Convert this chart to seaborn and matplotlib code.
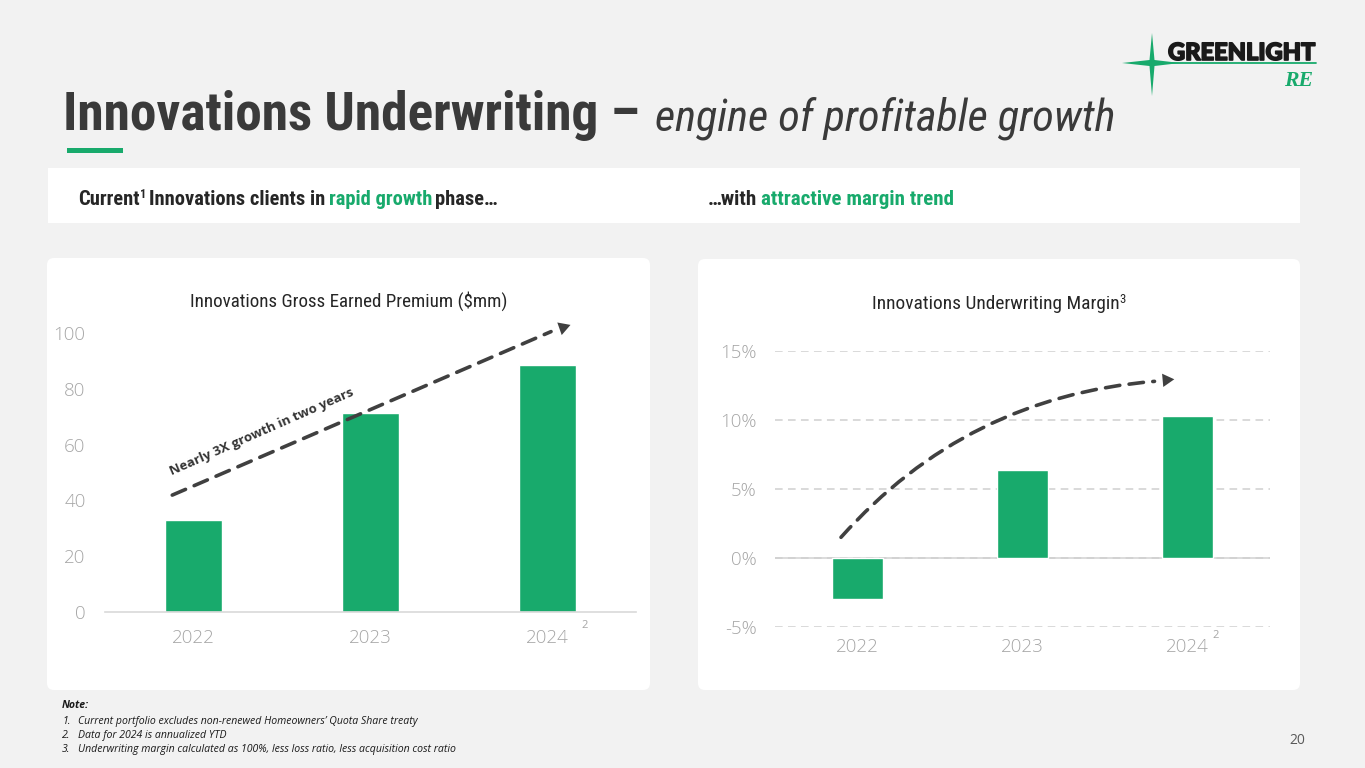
import numpy as np
import pandas as pd
import matplotlib
matplotlib.use("Agg")
import matplotlib.pyplot as plt
import seaborn as sns
from matplotlib import font_manager as fm
from matplotlib.patches import FancyBboxPatch, Rectangle, Polygon, FancyArrowPatch
import matplotlib.patheffects as pe

# ---------------- data ----------------
years = ["2022", "2023", "2024"]
premium_mm = [33.0, 71.5, 88.5]
margin_pct = [-3.0, 6.4, 10.3]
premium_ticks = [0, 20, 40, 60, 80, 100]
margin_ticks = [-5, 0, 5, 10, 15]

GREEN = "#18AA6C"
DARK = "#3A3A3A"
TICK = "#A6A6A6"

sns.set_theme(style="white")
names = {f.name for f in fm.fontManager.ttflist}


def pick(*cands):
    for c in cands:
        if c in names:
            return c
    return "DejaVu Sans"


COND = pick("Liberation Sans Narrow", "Roboto Condensed", "Open Sans Condensed", "DejaVu Sans")
BODY = pick("Open Sans", "Noto Sans", "DejaVu Sans")
HEAVY = pick("Lato", "Roboto", "DejaVu Sans")
SERIF = pick("Liberation Serif", "DejaVu Serif")
plt.rcParams["font.family"] = [BODY, "DejaVu Sans"]

W, H = 1365, 768
fig = plt.figure(figsize=(W / 100, H / 100), dpi=100, facecolor="#F2F2F2")
bg = fig.add_axes([0, 0, 1, 1], zorder=0)
bg.set_xlim(0, W)
bg.set_ylim(H, 0)
bg.axis("off")
R = fig.canvas.get_renderer()

# panels
bg.add_patch(Rectangle((48, 168), 1252, 55, fc="white", ec="none"))
for (x0, y0, x1, y1) in [(47, 258, 650, 690), (698, 259, 1300, 690)]:
    r = 7
    bg.add_patch(FancyBboxPatch((x0 + r, y0 + r), x1 - x0 - 2 * r, y1 - y0 - 2 * r,
                                boxstyle=f"round,pad={r}", fc="white", ec="none"))
bg.add_patch(Rectangle((67, 148), 56, 5, fc=GREEN, ec="none"))


def chain(pieces, x, y, size):
    texts = []
    cx = x
    for s, kw in pieces:
        kw = dict(kw)
        rel = kw.pop("rel", 1.0)
        dy = kw.pop("dy", 0.0)
        gap = kw.pop("gap", 0.0)
        cx += gap * size
        t = bg.text(cx, y - dy * size, s, fontsize=size * rel, va="baseline", ha="left", **kw)
        bb = t.get_window_extent(R)
        cx += bb.width
        texts.append(t)
    return texts, cx - x


def fit_chain(pieces, x, y, target, size0=20):
    texts, w = chain(pieces, x, y, size0)
    for t in texts:
        t.remove()
    size = size0 * target / w
    texts, w = chain(pieces, x, y, size)
    return texts, size


# ---------------- title ----------------
fit_chain([("Innovations Underwriting –", dict(family=[COND, "DejaVu Sans"], weight="bold", color=DARK))],
          63, 130, 577)
fit_chain([("engine of profitable growth", dict(family=[COND, "DejaVu Sans"], style="italic",
                                                 weight="normal", color=DARK))],
          655, 130, 460)

# ---------------- header band ----------------
hk = dict(family=[COND, "DejaVu Sans"], weight="bold", color="#262626")
hg = dict(hk, color=GREEN)
fit_chain([("Current", hk), ("1", dict(hk, rel=0.6, dy=0.45)),
           ("Innovations clients in", dict(hk, gap=0.22)),
           ("rapid growth", dict(hg, gap=0.22)), ("phase…", dict(hk, gap=0.22))],
          78, 205, 419)
fit_chain([("…with", hk), ("attractive margin trend", dict(hg, gap=0.22))], 708, 205, 245)

# ---------------- chart titles ----------------
tk = dict(family=[COND, "DejaVu Sans"], color="#262626")
fit_chain([("Innovations Gross Earned Premium ($mm)", tk)], 190, 307, 317)
fit_chain([("Innovations Underwriting Margin", tk), ("3", dict(tk, rel=0.65, dy=0.4))], 872, 309, 253)

# ---------------- logo ----------------
bg.add_patch(Polygon([(1152, 33), (1154.5, 60), (1180, 63), (1154.5, 66), (1152, 96),
                      (1149.5, 66), (1122, 63), (1149.5, 60)], closed=True, fc=GREEN, ec="none"))
bg.plot([1160, 1316], [63, 63], color=GREEN, lw=1.3)
gl, _ = fit_chain([("GREENLIGHT", dict(family=[HEAVY, "DejaVu Sans"], weight="black", color="#1A1A1A"))],
                  1168, 60, 147)
for t in gl:
    t.set_path_effects([pe.withStroke(linewidth=1.2, foreground="#1A1A1A")])
fit_chain([("RE", dict(family=[SERIF], weight="bold", style="italic", color=GREEN))], 1284, 86, 29)

# ---------------- notes ----------------
nk = dict(family=[BODY, "DejaVu Sans"], style="italic", color="#1A1A1A")
_, ns = fit_chain([("Underwriting margin calculated as 100%, less loss ratio, less acquisition cost ratio", nk)],
                  78, 752, 377, 8)
bg.text(62, 708, "Note:", fontsize=ns, va="baseline", weight="bold", **nk)
bg.text(62, 724, "1.", fontsize=ns, va="baseline", **nk)
bg.text(78, 724, "Current portfolio excludes non-renewed Homeowners’ Quota Share treaty", fontsize=ns, va="baseline", **nk)
bg.text(62, 738, "2.", fontsize=ns, va="baseline", **nk)
bg.text(78, 738, "Data for 2024 is annualized YTD", fontsize=ns, va="baseline", **nk)
bg.text(62, 752, "3.", fontsize=ns, va="baseline", **nk)
bg.text(1297, 740, "20", fontsize=10, color="#595959", ha="center", va="center")

# ---------------- left chart ----------------
axL = fig.add_axes([105 / W, 1 - 612 / H, 531 / W, 279 / H], zorder=2)
axL.patch.set_alpha(0)
sns.barplot(x=years, y=premium_mm, color=GREEN, saturation=1, width=0.32, ax=axL)
axL.set_xlim(-0.5, 2.5)
axL.set_ylim(0, 100)
axL.set_yticks(premium_ticks)
axL.set_xlabel("")
axL.set_ylabel("")
for s in ["top", "right", "left"]:
    axL.spines[s].set_visible(False)
axL.spines["bottom"].set_color("#D9D9D9")
axL.spines["bottom"].set_linewidth(1.2)
axL.tick_params(axis="both", length=0, labelsize=13.5, labelcolor=TICK)
axL.tick_params(axis="y", pad=14)
axL.tick_params(axis="x", pad=12)
axL.annotate("2", xy=(2, 0), xycoords=("data", "axes fraction"), xytext=(37, -13),
             textcoords="offset pixels", fontsize=8, color=TICK, ha="center", va="center")

# growth arrow
ak = dict(color="#404040", lw=2.6)
axL.annotate("", xy=(2.02, 100.5), xytext=(-0.12, 41.9), annotation_clip=False,
             arrowprops=dict(arrowstyle="-", linestyle=(0, (4, 2.6)), shrinkA=0, shrinkB=0, **ak))
axL.annotate("", xy=(2.13, 102.9), xytext=(2.0, 100.0), annotation_clip=False,
             arrowprops=dict(arrowstyle="-|>,head_length=0.7,head_width=0.4", lw=0, color="#404040",
                             shrinkA=0, shrinkB=0))
axL.text(0.385, 64.5, "Nearly 3X growth in two years", rotation=23.7, rotation_mode="anchor",
         ha="center", va="center", fontsize=9.5, weight="bold", color="#333333")

# ---------------- right chart ----------------
axR = fig.add_axes([775 / W, 1 - 627 / H, 495 / W, 276 / H], zorder=2)
axR.patch.set_alpha(0)
sns.barplot(x=years, y=margin_pct, color=GREEN, saturation=1, width=0.31, ax=axR)
axR.set_xlim(-0.5, 2.5)
axR.set_ylim(-5, 15)
axR.set_yticks(margin_ticks)
axR.set_yticklabels([f"{t}%" for t in margin_ticks])
axR.set_xlabel("")
axR.set_ylabel("")
for s in axR.spines.values():
    s.set_visible(False)
axR.set_axisbelow(True)
axR.yaxis.grid(True, linestyle=(0, (5, 3.5)), color="#D0D0D0", lw=1.1)
axR.axhline(0, color="#D9D9D9", lw=1.3, zorder=0.5)
axR.tick_params(axis="both", length=0, labelsize=13.5, labelcolor=TICK)
axR.tick_params(axis="y", pad=13)
axR.tick_params(axis="x", pad=8)
axR.annotate("2", xy=(2, 0), xycoords=("data", "axes fraction"), xytext=(28, -8),
             textcoords="offset pixels", fontsize=8, color=TICK, ha="center", va="center")

curve = FancyArrowPatch(posA=(-0.1, 1.5), posB=(1.80, 12.8), connectionstyle="arc3,rad=-0.2",
                        arrowstyle="-", linestyle=(0, (4, 2.6)), shrinkA=0, shrinkB=0,
                        transform=axR.transData, clip_on=False, **ak)
axR.add_patch(curve)
axR.annotate("", xy=(1.92, 12.95), xytext=(1.78, 12.8), annotation_clip=False,
             arrowprops=dict(arrowstyle="-|>,head_length=0.7,head_width=0.4", lw=0, color="#404040",
                             shrinkA=0, shrinkB=0))

for ax in (axL, axR):
    for lbl in ax.get_xticklabels() + ax.get_yticklabels():
        lbl.set_fontweight("light")
        lbl.set_family([BODY, "DejaVu Sans"])

fig.savefig("out.png", dpi=100, facecolor=fig.get_facecolor())
